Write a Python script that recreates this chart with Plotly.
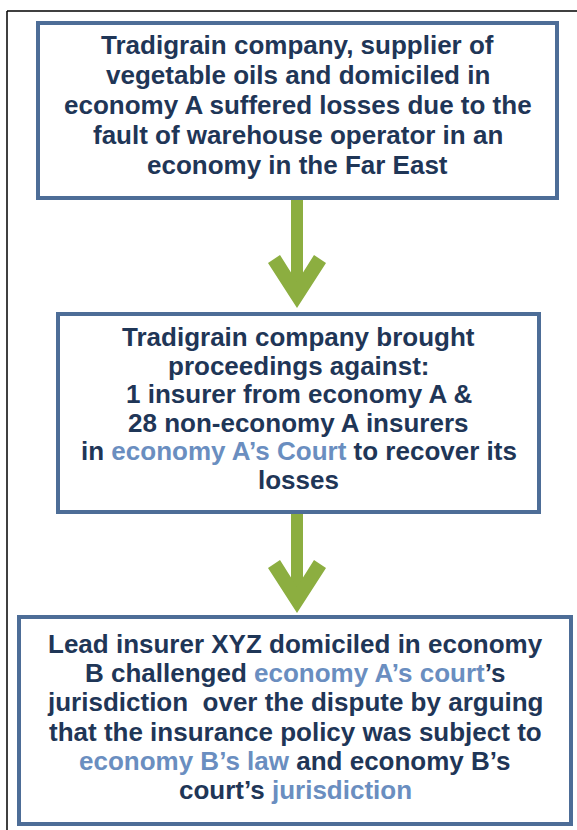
import plotly.graph_objects as go

# ---- content ----
HL = "#6a8ec0"   # highlight colour for emphasised phrases
def hl(s):
    return f"<span style='color:{HL}'>{s}</span>"

box1_lines = [
    "Tradigrain company, supplier of",
    "vegetable oils and domiciled in",
    "economy A suffered losses due to the",
    "fault of warehouse operator in an",
    "economy in the Far East",
]
box2_lines = [
    "Tradigrain company brought",
    "proceedings against:",
    "1 insurer from economy A &",
    "28 non-economy A insurers",
    "in " + hl("economy A\u2019s Court") + " to recover its",
    "losses",
]
box3_lines = [
    "Lead insurer XYZ domiciled in economy",
    "B challenged " + hl("economy A\u2019s court") + "\u2019s",
    "jurisdiction  over the dispute by arguing",
    "that the insurance policy was subject to",
    hl("economy B\u2019s law") + " and economy B\u2019s",
    "court\u2019s " + hl("jurisdiction"),
]

# ---- layout geometry (pixels) ----
boxes = [  # x0, x1, y0, y1, first line centre, line step
    (38, 557, 23, 198, 45, 30.0),
    (58, 539, 314, 512, 337, 28.5),
    (19, 571, 617, 824, 644, 29.2),
]
box_texts = [box1_lines, box2_lines, box3_lines]
arrows = [  # centre x, shaft start y, tip y
    (297, 198, 308),
    (297, 512, 613),
]

BORDER = "#4d6d97"
TEXT = "#1f3657"
GREEN = "#8cae40"

fig = go.Figure()
fig.add_trace(go.Scatter(x=[0, 577], y=[0, 830], mode="markers",
                         marker=dict(opacity=0), hoverinfo="skip", showlegend=False))

shapes = []
# outer frame (left and top edges visible)
shapes.append(dict(type="line", x0=7, x1=7, y0=11, y1=830, line=dict(color="black", width=1.5)))
shapes.append(dict(type="line", x0=7, x1=577, y0=11, y1=11, line=dict(color="black", width=1.5)))

# arrows
for cx, y0, ty in arrows:
    shapes.append(dict(type="rect", x0=cx - 6, x1=cx + 6, y0=y0, y1=ty - 12,
                       fillcolor=GREEN, line=dict(width=0), layer="below"))
    path = (f"M {cx-29},{ty-45} L {cx},{ty} L {cx+29},{ty-45} "
            f"L {cx+17},{ty-53} L {cx},{ty-26} L {cx-17},{ty-53} Z")
    shapes.append(dict(type="path", path=path, fillcolor=GREEN, line=dict(width=0), layer="below"))

# boxes
for x0, x1, y0, y1, _, _ in boxes:
    shapes.append(dict(type="rect", x0=x0, x1=x1, y0=y0, y1=y1,
                       fillcolor="white", line=dict(color=BORDER, width=4), layer="below"))

annotations = []
for (x0, x1, y0, y1, first, step), lines in zip(boxes, box_texts):
    cx = (x0 + x1) / 2
    for i, t in enumerate(lines):
        annotations.append(dict(
            x=cx, y=first + i * step, xref="x", yref="y", text=t, showarrow=False,
            xanchor="center", yanchor="middle",
            font=dict(family="Liberation Sans, Arial, sans-serif", size=26, color=TEXT, weight="bold"),
        ))

fig.update_layout(
    width=577, height=830, margin=dict(l=0, r=0, t=0, b=0),
    paper_bgcolor="white", plot_bgcolor="white",
    xaxis=dict(range=[0, 577], visible=False, fixedrange=True),
    yaxis=dict(range=[830, 0], visible=False, fixedrange=True),
    shapes=shapes, annotations=annotations, showlegend=False,
)
fig.write_html("out.html", config={"displayModeBar": False},
               post_script="document.body.style.margin='0';document.body.style.overflow='hidden';")
